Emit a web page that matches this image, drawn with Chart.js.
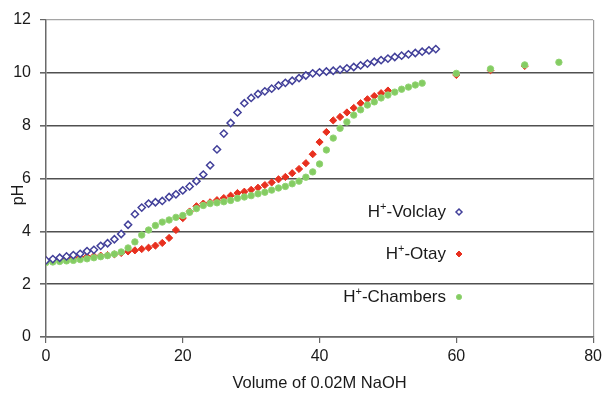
<!DOCTYPE html>
<html>
<head>
<meta charset="utf-8">
<script src="https://cdn.jsdelivr.net/npm/chart.js@4.4.1/dist/chart.umd.min.js"></script>
<style>
  html, body { margin: 0; padding: 0; background: #fff; }
  #wrap { width: 606px; height: 394px; }
</style>
</head>
<body>
<div id="wrap"><canvas id="phChart" width="606" height="394"></canvas></div>
<script>
  // volume of 0.02M NaOH added
  const volVolclay = [0,1,2,3,4,5,6,7,8,9,10,11,12,13,14,15,16,17,18,19,20,21,22,23,24,25,26,27,28,29,
    30,31,32,33,34,35,36,37,38,39,40,41,42,43,44,45,46,47,48,49,50,51,52,53,54,55,56,57];
  const phVolclay = [2.9,2.95,3.0,3.05,3.1,3.15,3.25,3.3,3.45,3.55,3.7,3.9,4.25,4.65,4.9,5.05,5.1,5.15,5.3,5.4,
    5.55,5.7,5.9,6.15,6.5,7.1,7.7,8.1,8.5,8.85,9.05,9.2,9.3,9.4,9.52,9.62,9.7,9.8,9.9,9.98,
    10.02,10.05,10.08,10.12,10.17,10.22,10.28,10.35,10.42,10.48,10.54,10.6,10.65,10.7,10.75,10.8,10.85,10.9];

  const volOtay = [0,1,2,3,4,5,6,7,8,9,10,11,12,13,14,15,16,17,18,19,20,21,22,23,24,25,26,27,28,29,
    30,31,32,33,34,35,36,37,38,39,40,41,42,43,44,45,46,47,48,49,50,60,65,70];
  const phOtay = [2.9,2.92,2.95,2.97,3.0,3.02,3.04,3.06,3.08,3.1,3.13,3.18,3.24,3.28,3.33,3.38,3.46,3.56,3.75,4.05,
    4.5,4.75,4.95,5.05,5.1,5.18,5.26,5.35,5.45,5.5,5.57,5.65,5.75,5.85,5.97,6.06,6.2,6.36,6.58,6.92,
    7.38,7.76,8.2,8.33,8.5,8.67,8.85,9.0,9.12,9.23,9.33,9.92,10.1,10.26];

  const volChambers = [0,1,2,3,4,5,6,7,8,9,10,11,12,13,14,15,16,17,18,19,20,21,22,23,24,25,26,27,28,29,
    30,31,32,33,34,35,36,37,38,39,40,41,42,43,44,45,46,47,48,49,50,51,52,53,54,55,60,65,70,75];
  const phChambers = [2.82,2.84,2.86,2.88,2.9,2.93,2.96,3.0,3.04,3.08,3.14,3.22,3.37,3.6,3.86,4.05,4.22,4.35,4.43,4.53,
    4.6,4.72,4.86,4.98,5.05,5.08,5.12,5.17,5.25,5.3,5.35,5.42,5.48,5.56,5.64,5.7,5.8,5.9,6.05,6.25,
    6.55,7.08,7.53,7.9,8.14,8.4,8.6,8.78,8.9,9.05,9.16,9.27,9.38,9.46,9.54,9.61,9.98,10.15,10.3,10.4];

  const seriesNames = ['Volclay', 'Otay', 'Chambers'];
  const xTicks = [0, 20, 40, 60, 80];
  const yTicks = [0, 2, 4, 6, 8, 10, 12];

  const FONT = '"Liberation Sans", Arial, sans-serif';
  const TEXT = '#1a1a1a';

  function toPoints(xs, ys) {
    return xs.map((x, i) => ({ x: x, y: ys[i] }));
  }

  // legend sits inside the plot: text right aligned, then the marker
  const insideLegend = {
    id: 'insideLegend',
    afterDatasetsDraw(chart) {
      const ctx = chart.ctx;
      const rows = [212, 254, 297];
      const textRight = 446;
      const markX = 459;
      ctx.save();
      ctx.textBaseline = 'middle';
      ctx.textAlign = 'left';
      chart.data.datasets.forEach((ds, i) => {
        const y = rows[i];
        const rest = '-' + seriesNames[i];
        ctx.font = '17px ' + FONT;
        const wRest = ctx.measureText(rest).width;
        const wH = ctx.measureText('H').width;
        ctx.font = '11px ' + FONT;
        const wPlus = ctx.measureText('+').width;
        const x = textRight - wRest - wPlus - wH;
        ctx.fillStyle = TEXT;
        ctx.font = '17px ' + FONT;
        ctx.fillText('H', x, y);
        ctx.font = '11px ' + FONT;
        ctx.fillText('+', x + wH, y - 5);
        ctx.font = '17px ' + FONT;
        ctx.fillText(rest, x + wH + wPlus, y);

        const r = ds.pointRadius - 0.6;
        ctx.fillStyle = ds.backgroundColor;
        ctx.strokeStyle = ds.borderColor;
        ctx.lineWidth = ds.borderWidth;
        ctx.beginPath();
        if (ds.pointStyle === 'circle') {
          ctx.arc(markX, y, r, 0, Math.PI * 2);
        } else {
          ctx.moveTo(markX, y - r); ctx.lineTo(markX + r, y);
          ctx.lineTo(markX, y + r); ctx.lineTo(markX - r, y); ctx.closePath();
        }
        ctx.fill();
        ctx.stroke();
      });

      // y axis title, set a little below the middle as in the original
      ctx.translate(19, 195);
      ctx.rotate(-Math.PI / 2);
      ctx.textAlign = 'center';
      ctx.fillStyle = TEXT;
      ctx.font = '16px ' + FONT;
      ctx.fillText('pH', 0, 0);
      ctx.restore();
    }
  };

  const ctx = document.getElementById('phChart').getContext('2d');
  const phChart = new Chart(ctx, {
    type: 'scatter',
    data: {
      datasets: [
        {
          label: seriesNames[0],
          data: toPoints(volVolclay, phVolclay),
          pointStyle: 'rectRot',
          pointRadius: 3.6,
          borderWidth: 1.5,
          borderColor: '#42409a',
          backgroundColor: '#ffffff',
          order: 0
        },
        {
          label: seriesNames[1],
          data: toPoints(volOtay, phOtay),
          pointStyle: 'rectRot',
          pointRadius: 3.6,
          borderWidth: 1,
          borderColor: '#e8301f',
          backgroundColor: '#e8301f',
          order: 2
        },
        {
          label: seriesNames[2],
          data: toPoints(volChambers, phChambers),
          pointStyle: 'circle',
          pointRadius: 3.2,
          borderWidth: 1,
          borderColor: '#92d474',
          backgroundColor: '#84cc62',
          order: 1
        }
      ]
    },
    options: {
      responsive: false,
      animation: false,
      layout: { padding: { left: 8, right: 9, top: 20, bottom: 0 } },
      plugins: {
        legend: { display: false },
        tooltip: { enabled: false }
      },
      scales: {
        x: {
          type: 'linear',
          min: 0,
          max: 80,
          afterFit: s => { s.height = 57; },
          afterBuildTicks: s => { s.ticks = xTicks.map(v => ({ value: v })); },
          ticks: { color: TEXT, padding: 4, font: { family: FONT, size: 16 } },
          grid: {
            color: c => (c.tick && c.tick.value === 80) ? '#9a9a9a' : 'rgba(0,0,0,0)',
            tickColor: '#666',
            tickLength: 6,
            lineWidth: 1.2
          },
          border: { color: '#6a6a6a', width: 1.5 },
          title: {
            display: true,
            text: 'Volume of 0.02M NaOH',
            color: TEXT,
            padding: { top: 0, bottom: 1 },
            font: { family: FONT, size: 16.5 }
          }
        },
        y: {
          min: 0,
          max: 12,
          afterFit: s => { s.width = 38; },
          afterBuildTicks: s => { s.ticks = yTicks.map(v => ({ value: v })); },
          ticks: { color: TEXT, padding: 9, font: { family: FONT, size: 16 } },
          grid: {
            color: c => (c.tick && c.tick.value === 12) ? '#a5a5a5' : '#505050',
            lineWidth: c => (c.tick && c.tick.value === 12) ? 1.2 : 1.6,
            tickColor: '#666',
            tickLength: 6
          },
          border: { color: '#6a6a6a', width: 1.5 }
        }
      }
    },
    plugins: [insideLegend]
  });
</script>
</body>
</html>
